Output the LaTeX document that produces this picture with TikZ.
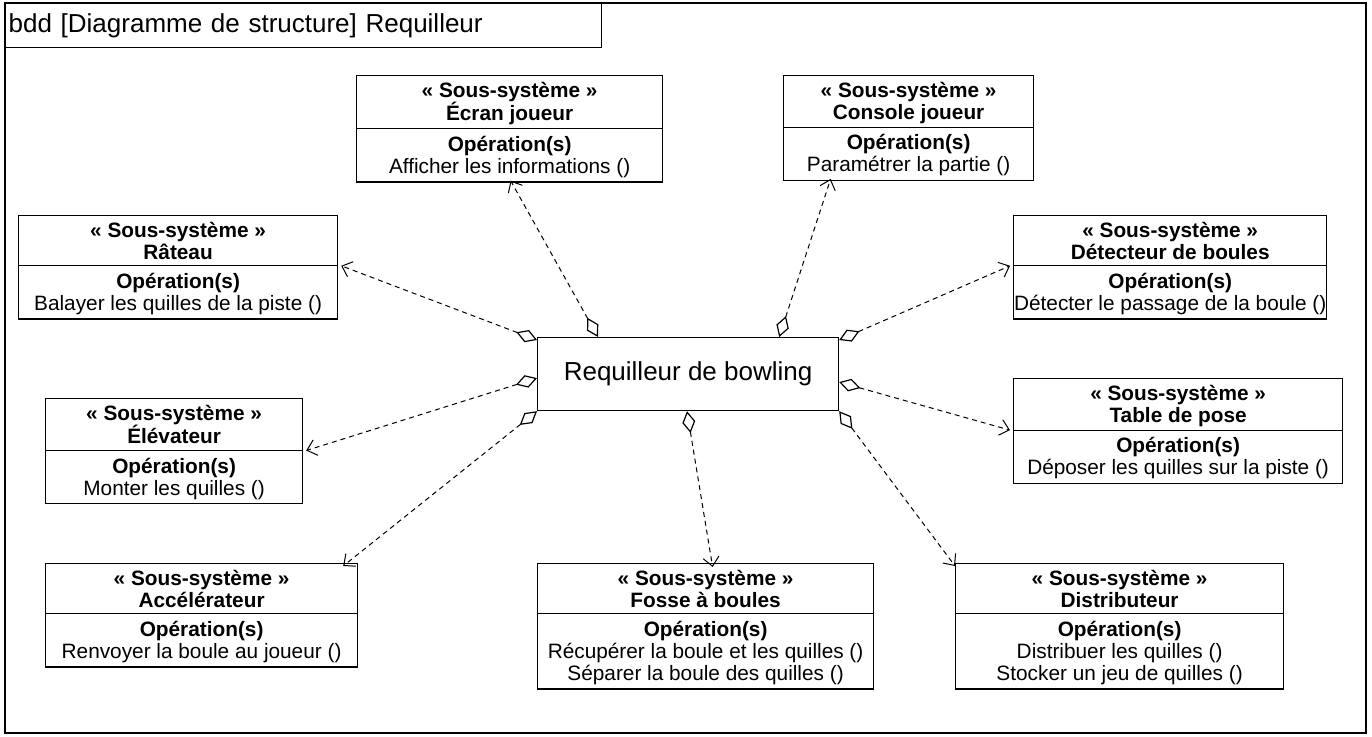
\documentclass[tikz,border=0pt]{standalone}
\usepackage{fontspec}
\setmainfont{Liberation Sans}
\usetikzlibrary{arrows.meta,shapes.multipart}

% struts that fix the height of the two compartments
\newcommand{\namestrut}{\rule{0pt}{18pt}}
\newcommand{\nameend}{\rule[-3pt]{0pt}{3pt}}
\newcommand{\opstrut}{\rule{0pt}{19pt}}
\newcommand{\opend}{\rule[-5pt]{0pt}{5pt}}

\tikzset{
	subsys/.style={rectangle split, rectangle split parts=2, draw, line width=1.2pt, align=center,
		anchor=north west, inner xsep=0.5pt, inner ysep=3pt, font=\fontsize{20.8}{22}\selectfont},
	link/.style={dashed, line width=1pt, dash pattern=on 5pt off 4pt,
		{Diamond[open, length=22pt, width=13pt, line width=1.2pt]}-{Straight Barb[length=9pt, width=16pt, line width=1pt]}}
}

\begin{document}
\begin{tikzpicture}[x=1pt, y=-1pt]

		\useasboundingbox (0,0) rectangle (1372,736);

		% frame and title
		\draw[line width=1.4pt] (5,3) rectangle (1366,733);
		\node[draw, line width=1.4pt, anchor=north west, minimum height=44pt, text width=590pt, inner xsep=3pt,
			align=left, font=\fontsize{26}{28}\selectfont] (title) at (5,3) {bdd [Diagramme de structure] Requilleur};

		% main block
		\node[draw, line width=1.2pt, anchor=north west, minimum width=301pt, minimum height=73pt,
			font=\fontsize{26}{28}\selectfont] (req) at (537,337) {Requilleur de bowling};

		% sub-systems
		\node[subsys, minimum width=306pt] (ecran) at (356,75)
			{\namestrut\textbf{« Sous-système »}\\\textbf{Écran joueur}\nameend
			\nodepart{two}\opstrut\textbf{Opération(s)}\\Afficher les informations ()\opend};
		\node[subsys, minimum width=250pt] (console) at (783,75)
			{\namestrut\textbf{« Sous-système »}\\\textbf{Console joueur}\nameend
			\nodepart{two}\opstrut\textbf{Opération(s)}\\Paramétrer la partie ()\opend};
		\node[subsys, minimum width=319pt] (rateau) at (18,215)
			{\namestrut\textbf{« Sous-système »}\\\textbf{Râteau}\nameend
			\nodepart{two}\opstrut\textbf{Opération(s)}\\Balayer les quilles de la piste ()\opend};
		\node[subsys, minimum width=313pt] (detect) at (1013,215)
			{\namestrut\textbf{« Sous-système »}\\\textbf{Détecteur de boules}\nameend
			\nodepart{two}\opstrut\textbf{Opération(s)}\\Détecter le passage de la boule ()\opend};
		\node[subsys, minimum width=257pt] (elev) at (45,398)
			{\namestrut\textbf{« Sous-système »}\\\textbf{Élévateur}\nameend
			\nodepart{two}\opstrut\textbf{Opération(s)}\\Monter les quilles ()\opend};
		\node[subsys, minimum width=329pt] (table) at (1013,378)
			{\namestrut\textbf{« Sous-système »}\\\textbf{Table de pose}\nameend
			\nodepart{two}\opstrut\textbf{Opération(s)}\\Déposer les quilles sur la piste ()\opend};
		\node[subsys, minimum width=312pt] (accel) at (45,563)
			{\namestrut\textbf{« Sous-système »}\\\textbf{Accélérateur}\nameend
			\nodepart{two}\opstrut\textbf{Opération(s)}\\Renvoyer la boule au joueur ()\opend};
		\node[subsys, minimum width=336pt] (fosse) at (537,563)
			{\namestrut\textbf{« Sous-système »}\\\textbf{Fosse à boules}\nameend
			\nodepart{two}\opstrut\textbf{Opération(s)}\\Récupérer la boule et les quilles ()\\Séparer la boule des quilles ()\opend};
		\node[subsys, minimum width=328pt] (distrib) at (955,563)
			{\namestrut\textbf{« Sous-système »}\\\textbf{Distributeur}\nameend
			\nodepart{two}\opstrut\textbf{Opération(s)}\\Distribuer les quilles ()\\Stocker un jeu de quilles ()\opend};

		% aggregation links
		\draw[link] ([xshift=61pt]req.north west) -- ([xshift=1pt, yshift=2pt]ecran.south);
		\draw[link] ([xshift=-60pt]req.north east) -- ([xshift=-78pt, yshift=2pt]console.south);
		\draw[link] ([yshift=-3pt]req.north west) -- ([xshift=3pt]rateau.text split east);
		\draw[link] ([yshift=-3pt]req.north east) -- ([xshift=-3pt]detect.text split west);
		\draw[link] ([yshift=-4pt]req.west) -- ([xshift=3pt]elev.text split east);
		\draw[link] ([yshift=-8pt]req.east) -- ([xshift=-3pt]table.text split west);
		\draw[link] (req.south west) -- ([xshift=-15pt, yshift=-3pt]accel.north east);
		\draw[link] ([xshift=150pt]req.south west) -- ([xshift=7pt, yshift=-4pt]fosse.north);
		\draw[link] (req.south east) -- ([yshift=-3pt]distrib.north west);

	\end{tikzpicture}
\end{document}
